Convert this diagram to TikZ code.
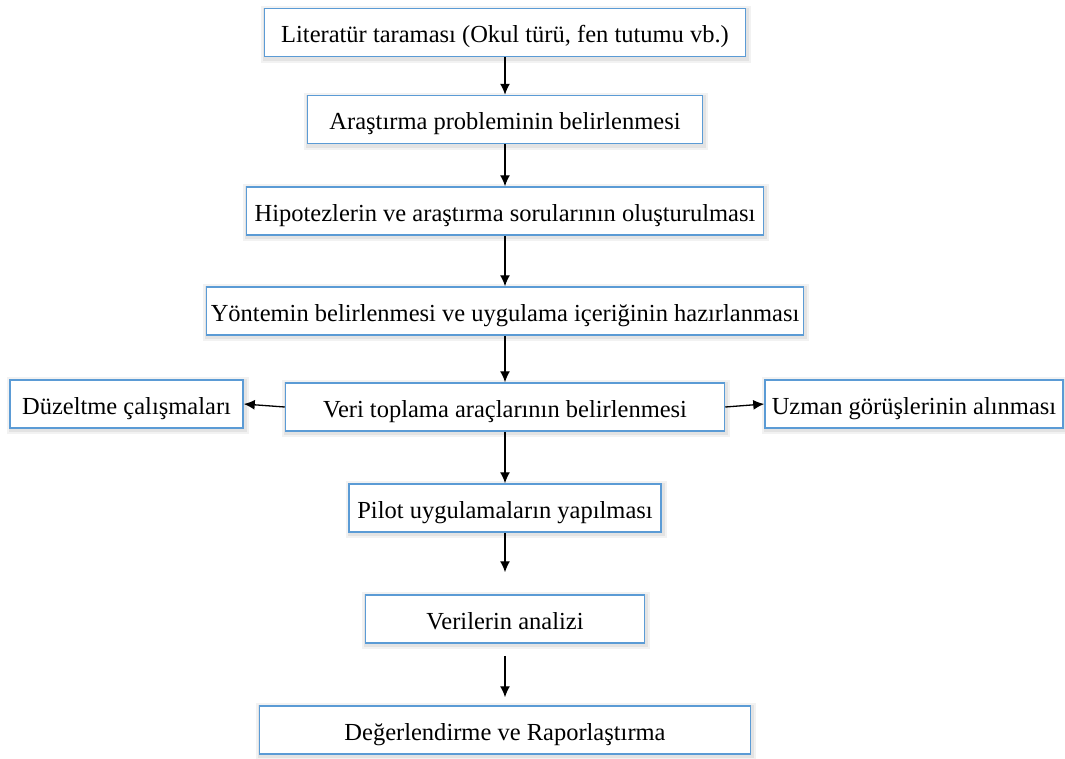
\documentclass[tikz,border=0pt]{standalone}
\usepackage{fontspec}
\setmainfont{Liberation Serif}
\usetikzlibrary{arrows.meta}
\definecolor{boxblue}{RGB}{91,155,213}

\begin{document}
\begin{tikzpicture}[x=1pt, y=-1pt,
    box/.style={draw=boxblue, line width=1.5pt, fill=white, minimum height=48pt, inner sep=0pt,
        text height=20pt, text depth=0pt,
        font=\fontsize{24.5}{29}\selectfont,
        preaction={draw=black!5, line width=9pt, transform canvas={shift={(1pt,-1.5pt)}}},
        preaction={draw=black!11, line width=5pt, transform canvas={shift={(1pt,-1.5pt)}}}},
    arr/.style={-{Latex[length=11pt,width=10pt]}, line width=1.3pt}]
    \useasboundingbox (0,0) rectangle (1065,758);
    \node[box, minimum width=481pt] (lit) at (505,32.5) {Literatür taraması (Okul türü, fen tutumu vb.)};
    \node[box, minimum width=395pt] (prob) at (505,119.5) {Araştırma probleminin belirlenmesi};
    \node[box, minimum width=517pt] (hip) at (505,211) {Hipotezlerin ve araştırma sorularının oluşturulması};
    \node[box, minimum width=597pt] (yon) at (505,311) {Yöntemin belirlenmesi ve uygulama içeriğinin hazırlanması};
    \node[box, minimum width=439pt] (veri) at (505,407) {Veri toplama araçlarının belirlenmesi};
    \node[box, minimum width=233pt] (duz) at (126.5,404) {Düzeltme çalışmaları};
    \node[box, minimum width=298pt] (uzman) at (914,404) {Uzman görüşlerinin alınması};
    \node[box, minimum width=312pt] (pilot) at (505,508) {Pilot uygulamaların yapılması};
    \node[box, minimum width=279pt] (analiz) at (505,619) {Verilerin analizi};
    \node[box, minimum width=491pt] (rapor) at (505,730) {Değerlendirme ve Raporlaştırma};
    % akış oklari
    \draw[arr] (lit) -- (prob);
    \draw[arr] (prob) -- (hip);
    \draw[arr] (hip) -- (yon);
    \draw[arr] (yon) -- (veri);
    \draw[arr] (veri.west) -- (duz.east);
    \draw[arr] (veri.east) -- (uzman.west);
    \draw[arr] (veri) -- (pilot);
    \draw[arr, shorten >=22pt] (pilot) -- (analiz);
    \draw[arr, shorten <=12pt, shorten >=8pt] (analiz) -- (rapor);
\end{tikzpicture}
\end{document}
